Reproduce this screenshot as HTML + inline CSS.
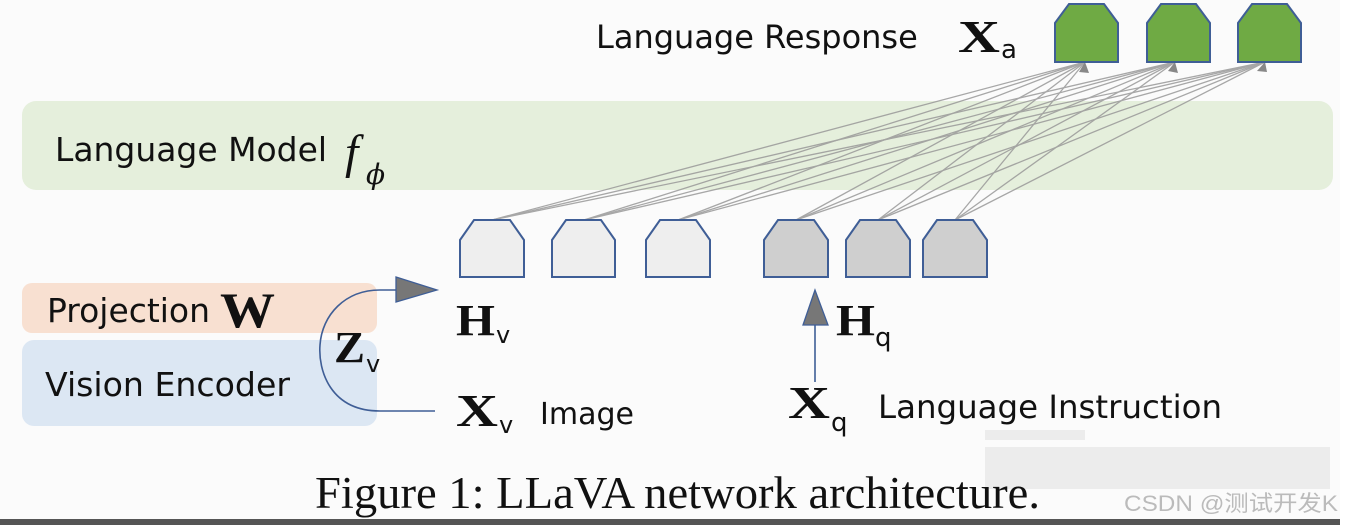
<!DOCTYPE html>
<html><head><meta charset="utf-8"><style>
body{margin:0;width:1345px;height:525px;overflow:hidden;background:#fff}
svg{display:block}
.s{font-family:"DejaVu Sans","Liberation Sans",sans-serif;fill:#111}
.m{font-family:"Liberation Serif",serif;font-weight:bold;fill:#111}
.sub{font-family:"DejaVu Sans","Liberation Sans",sans-serif;fill:#111}
</style></head><body>
<svg width="1345" height="525" viewBox="0 0 1345 525">
<rect x="0" y="0" width="1340" height="520" fill="#fbfbfb"/>
<rect x="0" y="519" width="1345" height="6" fill="#555"/>
<rect x="1340" y="0" width="5" height="525" fill="#fff"/>
<rect x="22" y="101" width="1311" height="89" rx="14" fill="#e5efdc"/>
<rect x="22" y="283" width="355" height="50" rx="10" fill="#f8e0d1"/>
<rect x="22" y="340" width="355" height="86" rx="12" fill="#dce7f3"/>
<g stroke="#999" stroke-width="1.3" opacity="0.85">
<line x1="492" y1="220" x2="1085" y2="62"/><line x1="492" y1="220" x2="1175" y2="62"/><line x1="492" y1="220" x2="1265" y2="62"/>
<line x1="584" y1="220" x2="1085" y2="62"/><line x1="584" y1="220" x2="1175" y2="62"/><line x1="584" y1="220" x2="1265" y2="62"/>
<line x1="678" y1="220" x2="1085" y2="62"/><line x1="678" y1="220" x2="1175" y2="62"/><line x1="678" y1="220" x2="1265" y2="62"/>
<line x1="796" y1="220" x2="1085" y2="62"/><line x1="796" y1="220" x2="1175" y2="62"/><line x1="796" y1="220" x2="1265" y2="62"/>
<line x1="878" y1="220" x2="1085" y2="62"/><line x1="878" y1="220" x2="1175" y2="62"/><line x1="878" y1="220" x2="1265" y2="62"/>
<line x1="955" y1="220" x2="1085" y2="62"/><line x1="955" y1="220" x2="1175" y2="62"/><line x1="955" y1="220" x2="1265" y2="62"/>
</g>
<g fill="#888"><polygon points="1085,62 1079,72 1089,73"/><polygon points="1175,62 1168,71 1178,73"/><polygon points="1265,62 1257,71 1267,72"/></g>
<g stroke="#3f5e96" stroke-width="2">
<g fill="#6faa44">
<polygon points="1069,4 1104,4 1118,23 1118,62 1055,62 1055,23"/>
<polygon points="1161,4 1196,4 1210,23 1210,62 1147,62 1147,23"/>
<polygon points="1252,4 1287,4 1301,23 1301,62 1238,62 1238,23"/>
</g>
<g fill="#eeeeee">
<polygon points="474,220 510,220 524,240 524,277 460,277 460,240"/>
<polygon points="566,220 601,220 615,240 615,277 552,277 552,240"/>
<polygon points="660,220 696,220 710,240 710,277 646,277 646,240"/>
</g>
<g fill="#cfcfcf">
<polygon points="778,220 814,220 828,240 828,277 764,277 764,240"/>
<polygon points="860,220 896,220 910,240 910,277 846,277 846,240"/>
<polygon points="937,220 973,220 987,240 987,277 923,277 923,240"/>
</g>
<path d="M435,411 L380,411 C330,411 318,370 320,345 C322,315 345,290 380,290 L398,290" fill="none" stroke-width="1.6"/>
<polygon points="396,277 437,290 396,302" fill="#777" stroke-width="1.3"/>
<line x1="815" y1="382" x2="815" y2="318" stroke-width="1.6"/>
<polygon points="815,290 803,325 828,325" fill="#777" stroke-width="1.3"/>
</g>
<text class="s" x="596" y="48" font-size="32">Language Response</text>
<text class="m" x="958" y="52" font-size="46" textLength="42" lengthAdjust="spacingAndGlyphs">X</text><text class="sub" x="1001" y="58" font-size="26">a</text>
<text class="s" x="55" y="161" font-size="33" textLength="272" lengthAdjust="spacingAndGlyphs">Language Model</text>
<text x="345" y="168" font-family="Liberation Serif,serif" font-style="italic" font-size="48" fill="#111">f</text>
<text x="366" y="184" font-family="DejaVu Serif,serif" font-style="italic" font-size="28" fill="#111">ϕ</text>
<text class="s" x="47" y="322" font-size="33" textLength="163" lengthAdjust="spacingAndGlyphs">Projection</text>
<text class="m" x="220" y="327" font-size="50" textLength="55" lengthAdjust="spacingAndGlyphs">W</text>
<text class="s" x="45" y="396" font-size="33" textLength="245" lengthAdjust="spacingAndGlyphs">Vision Encoder</text>
<text class="m" x="334" y="362" font-size="44" textLength="31" lengthAdjust="spacingAndGlyphs">Z</text><text class="sub" x="366" y="372" font-size="24">v</text>
<text class="m" x="456" y="335" font-size="44" textLength="39" lengthAdjust="spacingAndGlyphs">H</text><text class="sub" x="496" y="343" font-size="24">v</text>
<text class="m" x="456" y="426" font-size="46" textLength="42" lengthAdjust="spacingAndGlyphs">X</text><text class="sub" x="499" y="433" font-size="24">v</text>
<text class="s" x="540" y="424" font-size="30">Image</text>
<text class="m" x="836" y="335" font-size="44" textLength="39" lengthAdjust="spacingAndGlyphs">H</text><text class="sub" x="875" y="346" font-size="26">q</text>
<text class="m" x="788" y="418" font-size="46" textLength="42" lengthAdjust="spacingAndGlyphs">X</text><text class="sub" x="831" y="431" font-size="26">q</text>
<text class="s" x="878" y="418" font-size="32" textLength="344" lengthAdjust="spacingAndGlyphs">Language Instruction</text>
<g fill="#ececec"><rect x="985" y="430" width="100" height="10"/><rect x="985" y="447" width="345" height="42"/></g>
<text x="315" y="508" font-family="Liberation Serif,serif" font-size="45" fill="#111" textLength="725" lengthAdjust="spacingAndGlyphs">Figure 1: LLaVA network architecture.</text>
<text x="1124" y="511" font-family="Liberation Sans,'Noto Sans CJK SC',sans-serif" font-size="22" fill="#bbb" textLength="214" lengthAdjust="spacingAndGlyphs">CSDN @测试开发K</text>
</svg>
</body></html>
